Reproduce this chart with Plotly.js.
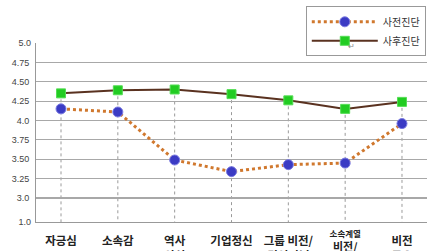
<!DOCTYPE html>
<html>
<head>
<meta charset="utf-8">
<script src="https://cdn.plot.ly/plotly-3.0.1.min.js"></script>
<style>html,body{margin:0;padding:0;background:#fff;}#chart{width:427px;height:251px;}</style>
</head>
<body>
<div id="chart"></div>
<script>
var categories = ['자긍심', '소속감', '역사', '기업정신', '그룹 비전/', '소속계열 비전/', '비전'];
var tickLabels = ['자긍심', '소속감', '역사<br>의식', '기업정신', '그룹 비전/<br>경영이념', '', '비전<br>공유'];
var specialLabel = '<span style="font-size:8.5px">소속계열</span><br>비전/<br>경영이념';
var preValues = [4.15, 4.11, 3.49, 3.34, 3.43, 3.45, 3.96];
var postValues = [4.35, 4.39, 4.40, 4.34, 4.26, 4.15, 4.24];
var gridVals = [4.75, 4.50, 4.25, 4.0, 3.75, 3.50, 3.25, 3.0];
var gridText = ['4.75', '4.50', '4.25', '4.0', '3.75', '3.50', '3.25', '3.0'];
var edgeVals = [5.0, 2.69];
var edgeText = ['5.0', '1.0'];
var yRange = [2.69, 5.0];

var xIdx = categories.map(function(c, i){ return i; });

var traces = [
  {
    name: '사전진단', x: xIdx, y: preValues, type: 'scatter', mode: 'lines+markers',
    line: {color: '#d0782e', width: 3, dash: 'dot'},
    marker: {symbol: 'circle', size: 10, color: '#3b3bc4', line: {color: '#7a7ae0', width: 1}}
  },
  {
    name: '사후진단', x: xIdx, y: postValues, type: 'scatter', mode: 'lines+markers',
    line: {color: '#5a3220', width: 2},
    marker: {symbol: 'square', size: 9, color: '#22cc22', line: {color: '#55dd55', width: 1}}
  },
  {
    x: xIdx, y: postValues, yaxis: 'y2', type: 'scatter', mode: 'none', showlegend: false, hoverinfo: 'skip'
  }
];

var shapes = xIdx.map(function(i){
  return {type: 'line', xref: 'x', yref: 'y', x0: i, x1: i, y0: postValues[i], y1: yRange[0],
          line: {color: '#9a9a9a', width: 1, dash: 'dot'}, layer: 'below'};
});

var layout = {
  width: 427, height: 251,
  margin: {l: 36, r: 0, t: 43, b: 29},
  paper_bgcolor: '#fff', plot_bgcolor: '#fff',
  showlegend: true,
  legend: {
    x: 0.69, y: 1.205, xanchor: 'left', yanchor: 'top',
    bgcolor: '#fff', bordercolor: '#999', borderwidth: 1,
    font: {family: 'Noto Sans CJK KR, sans-serif', size: 10, color: '#333'},
    itemwidth: 66, tracegroupgap: 0
  },
  xaxis: {
    range: [-0.44, 6.44], tickvals: xIdx, ticktext: tickLabels,
    showgrid: false, zeroline: false, showline: true, linecolor: '#999', linewidth: 1,
    ticks: '', tickangle: 0, ticklabelstandoff: 8,
    tickfont: {family: 'Noto Sans CJK KR, sans-serif', size: 11.5, color: '#222', weight: 'bold'}
  },
  yaxis: {
    range: yRange, tickvals: gridVals, ticktext: gridText,
    showgrid: true, gridcolor: '#a8a8a8', gridwidth: 1.2, zeroline: false,
    showline: true, linecolor: '#999', linewidth: 1, ticks: '', ticklabelstandoff: 4,
    tickfont: {family: 'Liberation Sans, Arial, sans-serif', size: 9, color: '#444'}
  },
  yaxis2: {
    range: yRange, overlaying: 'y', side: 'left', tickvals: edgeVals, ticktext: edgeText,
    showgrid: false, zeroline: false, showline: false, ticks: '', ticklabelstandoff: 4,
    tickfont: {family: 'Liberation Sans, Arial, sans-serif', size: 9, color: '#444'}
  },
  shapes: shapes,
  annotations: [
    {text: '↵', xref: 'paper', yref: 'paper', x: 0.82, y: 1.03, showarrow: false,
     font: {size: 8, color: '#888'}},
    {text: specialLabel, xref: 'x', yref: 'paper', x: xIdx[5], y: 0, yanchor: 'top', yshift: -3,
     showarrow: false, font: {family: 'Noto Sans CJK KR, sans-serif', size: 11, color: '#222', weight: 'bold'}}
  ]
};

Plotly.newPlot('chart', traces, layout, {displayModeBar: false, staticPlot: true});
</script>
</body>
</html>
